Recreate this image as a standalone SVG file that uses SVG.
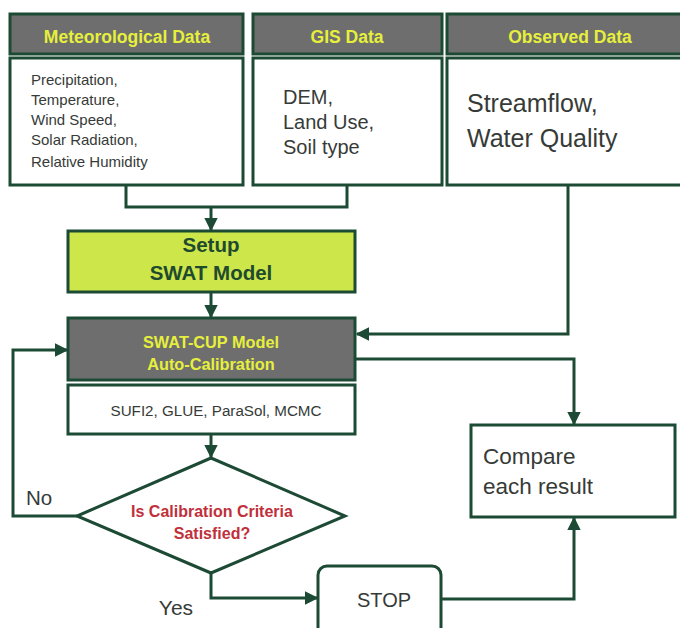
<svg xmlns="http://www.w3.org/2000/svg" width="680" height="628" viewBox="0 0 680 628">
<defs>
<style>
.hdr{fill:#6e6e6e;stroke:#1d4a35;stroke-width:3}
.box{fill:#ffffff;stroke:#1d4a35;stroke-width:3}
.ht{font-family:"Liberation Sans",Arial,sans-serif;font-weight:bold;fill:#e6f03c;text-anchor:middle}
.bt{font-family:"Liberation Sans",Arial,sans-serif;fill:#363b38}
.ln{fill:none;stroke:#1d4a35;stroke-width:3}
.rt{font-family:"Liberation Sans",Arial,sans-serif;font-weight:bold;fill:#c0303a;text-anchor:middle}
</style>
<marker id="ah" viewBox="0 0 10 10" refX="9" refY="5" markerWidth="4.5" markerHeight="4.5" orient="auto" markerUnits="strokeWidth">
<path d="M0,0 L10,5 L0,10 z" fill="#1d4a35"/>
</marker>
</defs>
<rect width="680" height="628" fill="#ffffff"/>

<g id="met">
<rect class="hdr" x="10" y="14" width="233" height="40"/>
<text class="ht" x="127" y="43" font-size="17.5">Meteorological Data</text>
<rect class="box" x="10" y="58" width="233" height="127"/>
<text class="bt" x="31" y="85" font-size="15">Precipitation,</text>
<text class="bt" x="31" y="105" font-size="15">Temperature,</text>
<text class="bt" x="31" y="125" font-size="15">Wind Speed,</text>
<text class="bt" x="31" y="145" font-size="15">Solar Radiation,</text>
<text class="bt" x="31" y="167" font-size="15">Relative Humidity</text>
</g>

<g id="gis">
<rect class="hdr" x="253" y="14" width="189" height="40"/>
<text class="ht" x="347" y="43" font-size="17.5">GIS Data</text>
<rect class="box" x="253" y="58" width="189" height="127"/>
<text class="bt" x="283" y="104" font-size="20">DEM,</text>
<text class="bt" x="283" y="129" font-size="20">Land Use,</text>
<text class="bt" x="283" y="154" font-size="20">Soil type</text>
</g>

<g id="obs">
<rect class="hdr" x="447" y="14" width="236" height="40"/>
<text class="ht" x="570" y="43" font-size="17.5">Observed Data</text>
<rect class="box" x="447" y="58" width="236" height="127"/>
<text class="bt" x="467" y="112" font-size="25">Streamflow,</text>
<text class="bt" x="467" y="147" font-size="25">Water Quality</text>
</g>

<g id="setup">
<rect x="68" y="231" width="287" height="61" fill="#cde64a" stroke="#1d4a35" stroke-width="3"/>
<text x="211" y="252" font-size="20.5" font-weight="bold" text-anchor="middle" fill="#1f4a2e" font-family="'Liberation Sans',Arial,sans-serif">Setup</text>
<text x="211" y="280" font-size="20.5" font-weight="bold" text-anchor="middle" fill="#1f4a2e" font-family="'Liberation Sans',Arial,sans-serif">SWAT Model</text>
</g>

<g id="swatcup">
<rect class="hdr" x="68" y="318" width="287" height="62"/>
<text class="ht" x="211" y="348" font-size="16.3">SWAT-CUP Model</text>
<text class="ht" x="211" y="370" font-size="16.3">Auto-Calibration</text>
<rect class="box" x="68" y="385" width="287" height="49"/>
<text class="bt" x="216" y="416" font-size="15.2" text-anchor="middle">SUFI2, GLUE, ParaSol, MCMC</text>
</g>

<g id="decision">
<polygon points="211,458 345,516 211,573 77,516" fill="#ffffff" stroke="#1d4a35" stroke-width="3"/>
<text class="rt" x="212" y="517" font-size="16">Is Calibration Criteria</text>
<text class="rt" x="212" y="539" font-size="16">Satisfied?</text>
</g>

<g id="stop">
<rect x="318" y="566" width="123" height="70" rx="9" fill="#ffffff" stroke="#1d4a35" stroke-width="3"/>
<text class="bt" x="384" y="607" font-size="20" text-anchor="middle">STOP</text>
</g>

<g id="compare">
<rect class="box" x="471" y="425" width="204" height="92"/>
<text class="bt" x="483" y="464" font-size="22.5">Compare</text>
<text class="bt" x="483" y="494" font-size="22.5">each result</text>
</g>

<g id="connectors">
<polyline class="ln" points="126,185 126,207 347,207 347,185"/>
<line class="ln" x1="211" y1="207" x2="211" y2="230" marker-end="url(#ah)"/>
<line class="ln" x1="211" y1="292" x2="211" y2="317" marker-end="url(#ah)"/>
<polyline class="ln" points="568,185 568,334 357,334" marker-end="url(#ah)"/>
<polyline class="ln" points="355,359 574,359 574,424" marker-end="url(#ah)"/>
<line class="ln" x1="211" y1="434" x2="211" y2="457" marker-end="url(#ah)"/>
<polyline class="ln" points="77,516 13,516 13,350 67,350" marker-end="url(#ah)"/>
<polyline class="ln" points="211,573 211,598 317,598" marker-end="url(#ah)"/>
<polyline class="ln" points="441,599 574,599 574,518" marker-end="url(#ah)"/>
<text class="bt" x="26" y="505" font-size="20.5">No</text>
<text class="bt" x="176" y="615" font-size="21" text-anchor="middle">Yes</text>
</g>
</svg>
